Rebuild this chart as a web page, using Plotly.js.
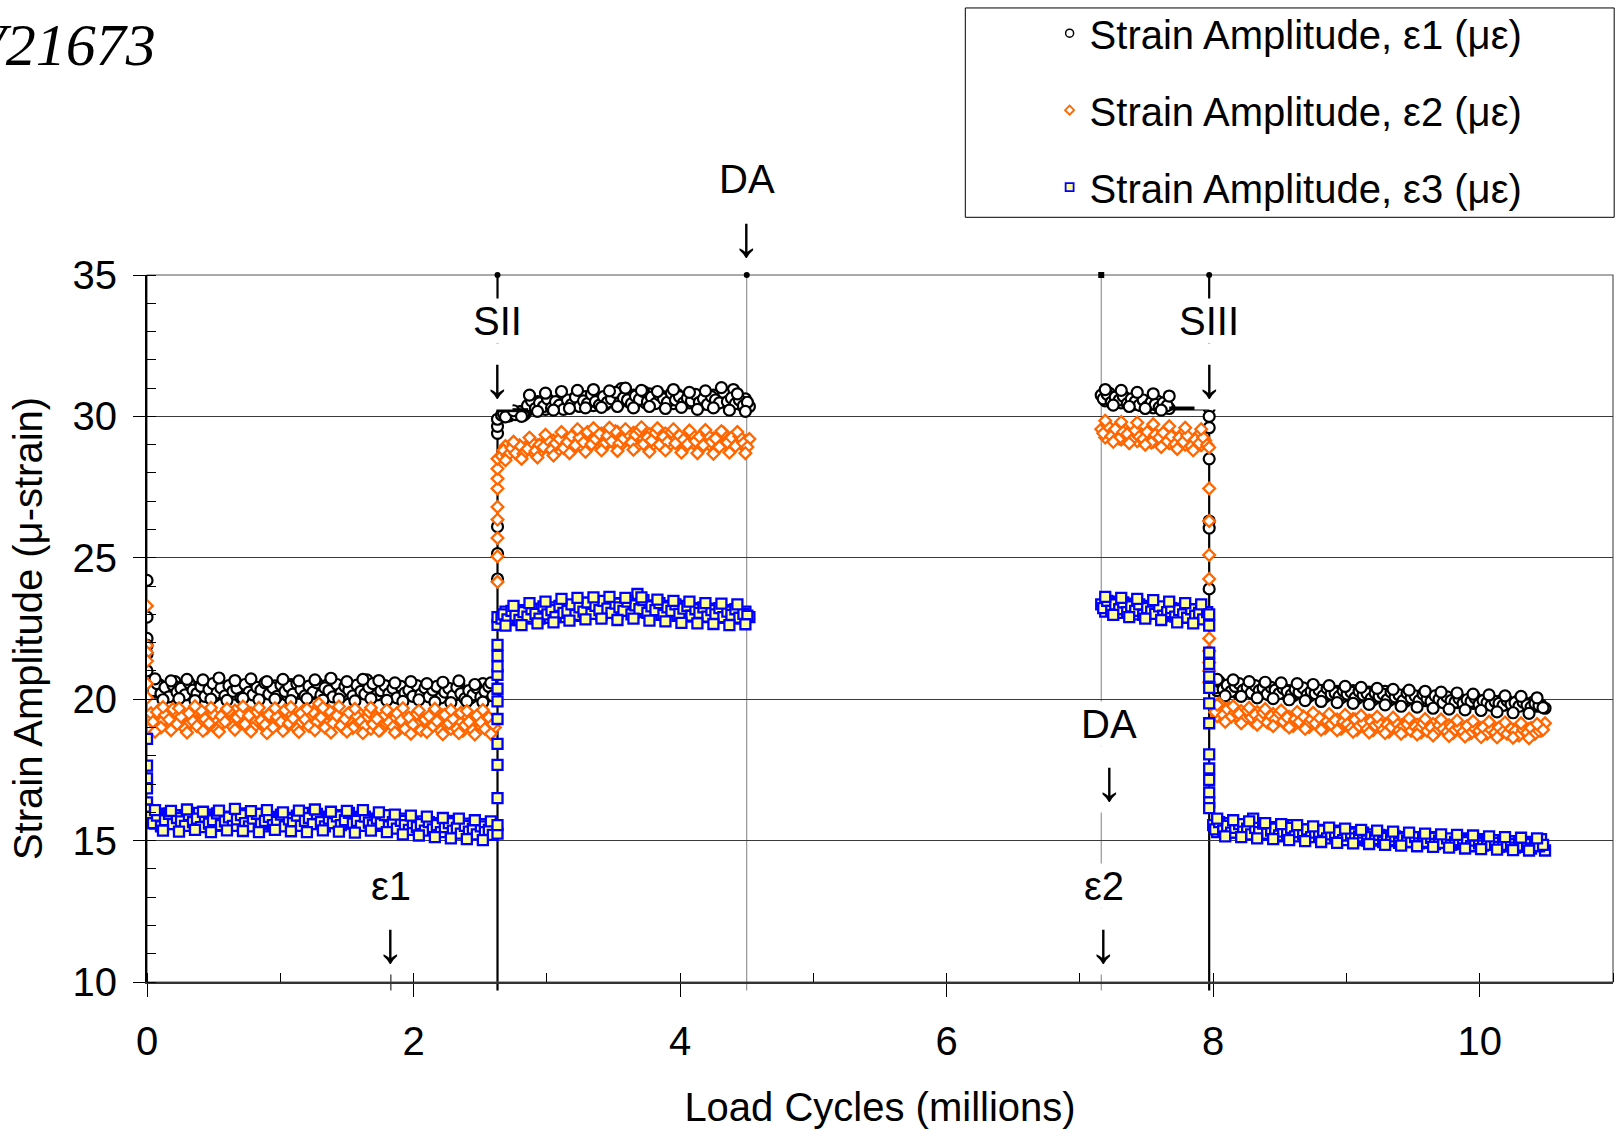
<!DOCTYPE html>
<html><head><meta charset="utf-8">
<script src="https://cdn.plot.ly/plotly-3.0.1.min.js"></script>
<style>html,body{margin:0;padding:0;background:#fff;} #chart{width:1616px;height:1133px;}</style>
</head><body><div id="chart"></div>
<script>
// ---------------- DATA ----------------
// Event positions (million load cycles)
const eventNames = ["SII", "DA", "DA", "SIII"];
const eventCycles = [2.63, 4.50, 7.16, 7.97];
const eventLabelCycles = [2.63, 4.50, 7.22, 7.97];
const eps1Mark = 1.83, eps2Mark = 7.18;

// Sampling of the steady blocks: first cycle count and interval (millions); three interleaved reading sets
const segA = {start: 0.030, step: 0.03}, segA2 = {start: 0.045, step: 0.03}, segA3 = {start: 0.060, step: 0.06};
const segB = {start: 2.660, step: 0.03}, segB2 = {start: 2.675, step: 0.03}, segB3 = {start: 2.690, step: 0.06};
const segC = {start: 7.160, step: 0.03}, segC2 = {start: 7.175, step: 0.03}, segC3 = {start: 7.190, step: 0.06};
const segD = {start: 8.000, step: 0.03}, segD2 = {start: 8.015, step: 0.03}, segD3 = {start: 8.030, step: 0.06};

// Transient readings at the start of each stage
const e1_t0 = [24.2, 22.9, 22.15, 21.9, 21.6, 21.0];
const e2_t0 = [23.3, 21.9, 21.65, 21.35, 20.55, 20.05];
const e3_t0 = [18.6, 17.65, 17.2, 16.85, 16.35, 16.1];
const e1_tSII = [24.25, 25.15, 26.1, 29.4, 29.65, 29.9];
const e2_tSII = [24.15, 25.05, 25.7, 26.35, 26.8, 27.45, 27.8, 28.15, 28.5];
const e3_tSII = [15.25, 15.55, 16.5, 17.68, 18.42, 19.3, 19.92, 20.37, 20.86, 21.16, 21.53, 21.92, 22.63, 22.9];
const e1_tSIII = [30.3, 30.0, 29.6, 28.5, 26.3, 26.05, 23.9];
const e2_tSIII = [28.9, 27.45, 26.3, 25.1, 24.25, 22.15, 21.7, 21.3, 21.0, 20.6];
const e3_tSIII = [23.0, 22.6, 21.65, 21.25, 20.8, 20.4, 19.85, 19.15, 18.05, 17.55, 17.15, 16.7, 16.35, 16.15];

// Block A (0 - 2.6 M)
const e1_A = [20.45,20.25,20.52,20.18,20.40,20.30,20.62,20.22,20.48,20.35,
20.15,20.42,20.28,20.50,20.20,20.38,20.12,20.45,20.30,20.25,
20.48,20.18,20.40,20.33,20.22,20.50,20.28,20.15,20.44,20.35,
20.20,20.47,20.26,20.38,20.14,20.52,20.30,20.22,20.43,20.28,
20.18,20.45,20.32,20.24,20.50,20.20,20.36,20.28,20.15,20.42,
20.30,20.22,20.48,20.35,20.68,20.25,20.40,20.18,20.33,20.45,
20.20,20.30,20.12,20.42,20.25,20.36,20.15,20.30,20.22,20.40,
20.10,20.28,20.18,20.35,20.08,20.25,20.15,20.50,20.12,20.22,
20.05,20.30,20.18,20.55,20.10,20.25,20.15];
const e1_A2 = [20.30,20.55,20.20,20.42,20.08,20.50,20.25,20.38,20.15,20.58,
20.32,20.20,20.45,20.10,20.35,20.55,20.22,20.40,20.12,20.48,
20.28,20.38,20.05,20.52,20.25,20.15,20.42,20.32,20.58,20.18,
20.40,20.10,20.50,20.28,20.45,20.18,20.55,20.35,20.12,20.46,
20.25,20.58,20.15,20.40,20.30,20.08,20.52,20.22,20.45,20.32,
20.12,20.50,20.28,20.18,20.42,20.55,20.15,20.30,20.48,20.20,
20.38,20.05,20.45,20.22,20.32,20.10,20.48,20.18,20.40,20.08,
20.32,20.45,20.05,20.25,20.38,20.12,20.42,20.20,20.02,20.30,
20.15,20.40,20.08,20.28,20.45,20.12];
const e1_A3 = [20.72,19.98,20.65,20.02,20.70,19.95,20.68,20.00,20.75,19.96,
20.66,20.03,20.72,19.98,20.62,20.00,20.70,19.95,20.65,20.02,
20.68,19.97,20.74,20.00,20.62,19.94,20.70,20.02,20.66,19.96,
20.58,19.92,20.62,19.98,20.55,19.90,20.60,19.88,20.65,19.92,
20.52,19.90,20.58];
const e2_A = [19.50,19.10,19.62,19.25,19.40,19.02,19.55,19.20,19.45,19.08,
19.35,19.58,19.15,19.42,18.98,19.52,19.28,19.05,19.48,19.30,
19.12,19.60,19.22,19.38,19.00,19.50,19.18,19.45,19.05,19.35,
19.55,19.15,19.40,19.25,19.02,19.48,19.30,19.10,19.58,19.20,
19.42,19.05,19.85,19.28,19.12,19.50,19.22,19.38,18.98,19.45,
19.25,19.10,19.52,19.18,19.35,18.95,19.42,19.28,19.05,19.48,
19.15,19.32,18.92,19.40,19.20,19.05,19.45,19.12,19.30,18.90,
19.38,19.18,19.02,19.42,19.10,18.95,19.35,19.22,18.88,19.40,
19.05,19.28,18.92,19.50,19.10,19.25,19.00];
const e2_A2 = [19.20,19.55,19.00,19.45,19.28,19.65,19.12,19.38,18.95,19.50,
19.22,19.05,19.60,19.30,19.15,19.48,18.92,19.40,19.20,19.58,
19.02,19.35,19.50,19.12,19.42,18.98,19.55,19.25,19.10,19.45,
19.00,19.38,19.20,19.62,19.15,19.32,18.95,19.50,19.28,19.05,
19.55,19.20,19.35,19.00,19.60,19.15,19.42,19.08,19.30,19.52,
18.98,19.40,19.22,19.05,19.55,19.12,19.30,18.92,19.45,19.18,
19.02,19.50,19.25,18.95,19.35,19.10,19.48,18.90,19.28,19.40,
19.05,19.22,18.88,19.45,19.15,19.30,18.95,19.52,19.08,19.20,
18.90,19.42,19.18,18.95,19.35,19.12];
const e2_A3 = [18.85,19.72,18.90,19.68,18.82,19.75,18.88,19.70,18.85,19.66,
18.92,19.74,18.86,19.70,18.80,19.68,18.88,19.72,18.84,19.65,
18.90,19.70,18.82,19.74,18.86,19.66,18.80,19.70,18.88,19.62,
18.82,19.68,18.78,19.60,18.84,19.66,18.76,19.62,18.80,19.58,
18.75,19.62,18.78];
const e3_A = [15.85,15.60,15.95,15.55,15.75,15.65,15.90,15.50,15.80,15.62,
15.72,15.98,15.55,15.78,15.66,15.92,15.52,15.70,15.85,15.58,
15.75,15.62,15.96,15.55,15.70,15.82,15.60,15.74,15.50,15.88,
15.65,15.78,15.55,15.93,15.68,15.58,15.80,15.64,15.98,15.55,
15.72,15.60,15.85,15.52,15.76,15.66,15.90,15.58,15.70,15.62,
15.84,15.55,15.75,15.96,15.60,15.70,15.52,15.82,15.65,15.58,
15.72,15.50,15.62,15.78,15.45,15.60,15.52,15.68,15.40,15.58,
15.48,15.62,15.35,15.52,15.70,15.42,15.30,15.55,15.38,15.60,
15.28,15.45,15.35,15.58,15.25,15.40,15.32];
const e3_A2 = [15.62,15.88,15.50,15.72,15.95,15.58,15.80,15.68,15.52,15.90,
15.65,15.78,15.48,15.85,15.60,15.72,15.96,15.55,15.68,15.82,
15.52,15.75,15.90,15.62,15.50,15.78,15.95,15.58,15.70,15.84,
15.55,15.66,15.92,15.50,15.75,15.62,15.88,15.52,15.70,15.80,
15.58,15.94,15.65,15.50,15.78,15.62,15.86,15.55,15.72,15.98,
15.60,15.70,15.52,15.85,15.64,15.55,15.78,15.60,15.90,15.50,
15.65,15.42,15.70,15.55,15.38,15.62,15.48,15.58,15.35,15.65,
15.40,15.55,15.30,15.48,15.62,15.35,15.45,15.25,15.52,15.32,
15.42,15.22,15.50,15.30,15.38,15.20];
const e3_A3 = [16.08,15.35,16.05,15.32,16.10,15.38,16.02,15.30,16.06,15.36,
16.12,15.34,16.04,15.30,16.08,15.38,16.00,15.33,16.06,15.30,
16.10,15.36,16.02,15.32,16.05,15.28,16.08,15.35,16.00,15.30,
15.92,15.22,15.88,15.18,15.85,15.12,15.80,15.08,15.78,15.05,
15.72,15.02,15.68];

// Block B (2.66 - 4.52 M)
const e1_B = [30.05,30.12,30.02,30.15,30.08,30.18,30.10,
30.45,30.30,30.52,30.38,30.25,30.55,30.40,30.32,30.60,30.45,
30.35,30.62,30.48,30.40,30.70,30.50,30.38,30.65,30.55,30.42,
30.72,30.58,30.45,30.98,30.62,30.50,30.75,30.55,30.68,30.48,
30.80,30.60,30.52,30.72,30.58,30.65,30.45,30.78,30.55,30.62,
30.48,30.70,30.58,30.42,30.68,30.52,30.75,30.45,30.60,30.50,
30.72,30.95,30.55,30.40,30.62,30.35];
const e1_B2 = [30.10,30.02,30.14,30.06,30.16,30.04,
30.38,30.55,30.28,30.48,30.35,30.62,30.30,30.52,30.40,30.25,
30.58,30.42,30.68,30.35,30.55,30.45,30.78,30.52,30.40,30.70,
30.50,30.62,30.85,30.48,30.65,30.58,30.45,30.72,30.60,30.88,
30.52,30.68,30.45,30.75,30.62,30.50,30.82,30.58,30.70,30.48,
30.65,30.55,30.78,30.50,30.62,30.42,30.70,30.58,30.48,30.85,
30.52,30.65,30.45,30.58,30.38,30.50];
const e1_B3 = [29.98,30.20,30.00,
30.75,30.18,30.82,30.22,30.88,30.28,30.92,30.30,30.95,30.32,
30.90,30.35,31.00,30.30,30.92,30.35,30.88,30.28,30.95,30.32,
30.85,30.25,30.90,30.30,31.02,30.22,30.80,30.18];
const e2_B = [28.60,28.95,28.70,29.02,28.65,28.90,28.75,
29.05,28.72,28.98,28.80,29.10,28.85,29.15,28.78,29.05,28.90,
29.20,28.85,29.12,28.95,29.35,28.92,29.18,29.05,29.40,28.98,
29.25,29.08,29.45,29.00,29.30,29.15,29.42,28.95,29.28,29.10,
29.38,29.02,29.25,29.12,29.40,28.98,29.30,29.08,29.20,28.92,
29.35,29.05,29.15,28.88,29.30,29.00,29.22,28.95,29.38,29.05,
29.18,28.90,29.25,29.02,29.12,29.20];
const e2_B2 = [28.80,28.62,28.88,28.70,28.98,28.68,
28.85,29.10,28.78,29.00,28.92,29.18,28.82,29.05,29.20,28.88,
29.10,29.30,28.98,29.25,29.08,29.45,29.02,29.20,29.38,29.00,
29.32,29.12,29.48,29.05,29.22,29.40,29.08,29.35,29.50,29.02,
29.25,29.15,29.42,29.00,29.28,29.10,29.45,29.05,29.32,29.18,
29.02,29.40,29.12,29.28,28.98,29.35,29.10,29.22,28.92,29.42,
29.08,29.25,28.95,29.30,29.05,28.92];
const e2_B3 = [28.45,29.10,28.50,
29.25,28.55,29.35,28.62,29.45,28.70,29.55,28.75,29.58,28.80,
29.60,28.78,29.55,28.82,29.62,28.75,29.58,28.80,29.55,28.72,
29.50,28.70,29.52,28.68,29.48,28.72,29.45,28.70];
const e3_B = [22.85,23.10,22.80,23.05,22.90,23.15,22.88,
23.08,22.85,23.20,22.95,23.12,22.88,23.25,22.98,23.15,22.90,
23.22,23.00,23.30,22.95,23.18,23.38,23.05,23.25,22.98,23.35,
23.10,23.28,23.02,23.40,23.15,23.25,23.05,23.72,23.20,23.08,
23.32,23.12,23.25,22.98,23.30,23.10,23.20,22.95,23.28,23.05,
23.18,22.92,23.22,23.05,23.15,22.90,23.20,23.02,23.12,22.88,
23.15,22.95,23.05,22.85,23.10,22.90];
const e3_B2 = [23.00,22.82,23.12,22.95,22.80,23.08,
22.92,23.18,23.02,22.85,23.28,23.00,23.15,22.90,23.30,23.05,
23.12,23.35,22.98,23.25,23.10,23.42,23.02,23.30,23.15,23.48,
23.20,23.05,23.38,23.25,23.12,23.45,23.00,23.32,23.18,23.50,
23.05,23.28,23.15,23.40,22.98,23.25,23.12,23.35,23.02,23.20,
23.30,22.95,23.18,23.05,23.25,22.92,23.15,23.00,23.22,22.90,
23.10,22.98,23.18,22.88,23.02,22.95];
const e3_B3 = [22.60,23.30,22.62,
23.40,22.68,23.45,22.72,23.55,22.78,23.58,22.82,23.60,22.85,
23.62,22.80,23.58,22.85,23.60,22.78,23.52,22.75,23.48,22.70,
23.45,22.68,23.40,22.66,23.38,22.62,23.35,22.65];

// Block C (7.16 - 7.97 M)
const e1_C = [30.75,30.55,30.82,30.60,30.70,30.48,30.65,30.55,30.42,30.60,30.38,30.52,30.45,30.30,30.55,30.35,30.42,30.28];
const e1_C2 = [30.62,30.78,30.50,30.68,30.58,30.72,30.45,30.62,30.52,30.40,30.58,30.35,30.50,30.42,30.32,30.48,30.38];
const e1_C3 = [30.95,30.40,30.92,30.35,30.85,30.28,30.80,30.22,30.72];
const e2_C = [29.55,29.25,29.62,29.35,29.48,29.18,29.52,29.30,29.42,29.12,29.38,29.22,29.45,29.10,29.32,29.20,29.40,29.05,29.28,29.15,29.35,29.00,29.22,29.10,29.30,28.98,29.15];
const e2_C2 = [29.40,29.68,29.30,29.55,29.22,29.45,29.38,29.15,29.50,29.28,29.20,29.45,29.08,29.35,29.25,29.42,29.12,29.30,29.02,29.25,29.10,29.32,28.95,29.18,29.05,29.25,29.00];
const e2_C3 = [29.85,29.10,29.80,29.05,29.78,29.00,29.72,28.92,29.65,28.85,29.60,28.80,29.55];
const e3_C = [23.35,23.10,23.45,23.20,23.30,23.05,23.38,23.15,23.25,23.00,23.30,22.95,23.18,23.08,23.25,22.92,23.15,23.02,23.20,22.88,23.10,22.95,23.12,22.85,23.05,22.90,23.00];
const e3_C2 = [23.22,23.48,23.12,23.35,23.18,23.42,23.08,23.28,23.12,23.35,22.98,23.22,23.10,23.02,23.28,22.95,23.08,23.22,22.92,23.15,23.00,22.88,23.18,22.95,23.05,22.82,23.08];
const e3_C3 = [23.62,22.98,23.58,22.90,23.55,22.85,23.50,22.80,23.45,22.72,23.40,22.68,23.35];

// Block D (8.0 - 10.49 M)
const e1_D = [20.55,20.30,20.48,20.25,20.52,20.35,20.22,20.45,20.30,20.50,
20.20,20.38,20.28,20.45,20.15,20.35,20.25,20.42,20.18,20.30,
20.12,20.38,20.22,20.30,20.10,20.35,20.18,20.25,20.08,20.32,
20.15,20.28,20.05,20.22,20.12,20.30,20.02,20.20,20.10,20.25,
19.98,20.18,20.05,20.28,19.95,20.15,20.02,20.10,19.92,20.20,
20.00,19.90,20.12,19.95,20.05,19.85,20.10,19.92,19.98,19.82,
20.05,19.88,19.95,19.80,20.00,19.85,19.92,19.78,19.98,19.82,
19.88,19.75,19.95,19.80,19.85,19.72,19.92,19.78,19.85,19.70,
19.90,19.75,19.80,19.68];
const e1_D2 = [20.40,20.62,20.35,20.50,20.28,20.45,20.55,20.32,20.42,20.22,
20.48,20.30,20.40,20.18,20.42,20.32,20.20,20.38,20.28,20.15,
20.35,20.25,20.40,20.15,20.28,20.20,20.32,20.12,20.38,20.18,
20.22,20.10,20.30,20.18,20.25,20.05,20.28,20.15,20.20,20.02,
20.22,20.10,20.18,19.98,20.25,20.08,20.15,19.95,20.22,20.05,
20.12,19.95,20.18,20.02,19.92,20.12,20.00,19.88,20.08,19.95,
19.90,20.02,19.85,19.98,19.92,20.05,19.82,19.95,19.88,19.78,
19.92,19.85,19.78,19.95,19.82,19.88,19.75,19.90,19.80,19.72,
19.85,19.78,19.70];
const e1_D3 = [20.70,20.12,20.68,20.10,20.62,20.05,20.60,20.02,20.58,19.98,
20.55,19.95,20.52,19.92,20.48,19.88,20.45,19.85,20.42,19.82,
20.38,19.80,20.35,19.75,20.32,19.72,20.28,19.68,20.25,19.65,
20.22,19.62,20.18,19.60,20.15,19.55,20.12,19.52,20.10,19.50,
20.05];
const e2_D = [19.75,19.40,19.62,19.30,19.70,19.45,19.35,19.58,19.28,19.50,
19.20,19.55,19.32,19.45,19.15,19.48,19.25,19.40,19.12,19.38,
19.05,19.42,19.20,19.30,19.02,19.35,19.15,19.25,18.98,19.32,
19.10,19.28,18.95,19.22,19.05,19.30,18.92,19.18,19.02,19.25,
18.90,19.20,19.00,19.12,18.85,19.18,18.98,19.08,18.88,19.15,
18.95,19.10,18.82,19.05,18.92,19.12,18.85,19.02,18.95,19.08,
18.80,19.05,18.90,19.00,18.78,19.10,18.88,18.98,18.82,19.05,
18.85,18.95,18.78,19.02,18.88,18.92,18.75,19.00,18.85,18.95,
18.80,19.02,18.88,19.15];
const e2_D2 = [19.55,19.85,19.45,19.65,19.38,19.55,19.48,19.25,19.60,19.35,
19.45,19.28,19.52,19.18,19.40,19.30,19.50,19.22,19.35,19.10,
19.30,19.20,19.40,19.10,19.28,19.15,19.35,19.05,19.22,19.12,
19.25,18.98,19.20,19.12,18.98,19.28,19.05,19.15,18.95,19.22,
19.08,19.15,18.92,19.10,19.02,19.20,18.90,19.05,19.12,18.88,
19.02,18.95,19.15,18.88,19.00,18.82,19.08,18.95,18.85,19.02,
18.92,18.98,18.85,19.05,18.80,18.95,18.88,19.00,18.78,18.92,
18.82,19.00,18.85,18.78,18.95,18.88,18.72,18.92,18.82,18.98,
18.78,18.88,18.92];
const e2_D3 = [19.80,19.20,19.75,19.15,19.70,19.10,19.65,19.05,19.60,19.00,
19.55,18.95,19.52,18.92,19.48,18.90,19.45,18.85,19.42,18.82,
19.38,18.80,19.35,18.78,19.32,18.75,19.30,18.72,19.28,18.70,
19.25,18.68,19.22,18.66,19.20,18.65,19.18,18.64,19.15,18.62,
19.12];
const e3_D = [15.55,15.30,15.48,15.25,15.62,15.40,15.28,15.50,15.35,15.45,
15.78,15.32,15.42,15.20,15.48,15.28,15.38,15.15,15.40,15.30,
15.55,15.22,15.35,15.12,15.40,15.25,15.32,15.10,15.38,15.18,
15.28,15.05,15.35,15.20,15.12,15.30,15.02,15.25,15.15,15.08,
15.22,15.00,15.18,15.10,14.98,15.20,15.05,15.12,14.95,15.15,
15.02,15.10,14.92,15.08,15.00,14.90,15.12,14.98,15.05,14.88,
15.02,14.92,15.08,14.85,15.00,14.95,14.82,15.05,14.90,14.98,
14.85,15.02,14.88,14.95,14.80,14.98,14.85,14.92,14.78,14.95,
14.82,14.90,15.05,14.65];
const e3_D2 = [15.40,15.65,15.35,15.52,15.28,15.45,15.58,15.32,15.42,15.22,
15.45,15.30,15.60,15.25,15.35,15.42,15.18,15.32,15.25,15.45,
15.15,15.30,15.22,15.40,15.12,15.28,15.18,15.35,15.08,15.22,
15.15,15.30,15.02,15.18,15.25,15.08,15.15,15.28,15.00,15.12,
15.05,15.20,14.95,15.10,15.02,15.15,14.92,15.08,15.00,14.95,
15.12,14.90,15.05,14.95,15.10,14.88,15.00,14.92,15.08,14.85,
14.95,15.02,14.88,14.95,14.80,15.00,14.90,14.82,14.98,14.85,
14.92,14.78,14.95,14.85,14.88,14.75,14.92,14.82,14.88,14.72,
14.90,14.80,14.85];
const e3_D3 = [15.78,15.15,15.72,15.12,15.68,15.08,15.62,15.05,15.58,15.02,
15.55,14.98,15.50,14.95,15.46,14.92,15.42,14.90,15.38,14.88,
15.35,14.85,15.32,14.82,15.28,14.80,15.25,14.78,15.22,14.75,
15.20,14.72,15.18,14.70,15.15,14.68,15.12,14.66,15.10,14.65,
15.08];

// Flat connector segments of the ε1 record
const e1_bar_x = [2.63, 2.86, null, 7.67, 7.97];
const e1_bar_y = [30.22, 30.22, null, 30.28, 30.28];

const seriesNames = ["Strain Amplitude, ε1 (με)", "Strain Amplitude, ε2 (με)", "Strain Amplitude, ε3 (με)"];

// ---------------- BUILD ----------------
function segX(seg, arr) { return arr.map((_, i) => +(seg.start + i * seg.step).toFixed(4)); }
function atX(c, arr) { return arr.map(() => c); }
function build(p) {
  const parts = [
    [atX(0, p.t0), p.t0],
    [segX(segA, p.A), p.A], [segX(segA2, p.A2), p.A2], [segX(segA3, p.A3), p.A3],
    [atX(eventCycles[0], p.tSII), p.tSII],
    [segX(segB, p.B), p.B], [segX(segB2, p.B2), p.B2], [segX(segB3, p.B3), p.B3],
    [segX(segC, p.C), p.C], [segX(segC2, p.C2), p.C2], [segX(segC3, p.C3), p.C3],
    [atX(eventCycles[3], p.tSIII), p.tSIII],
    [segX(segD, p.D), p.D], [segX(segD2, p.D2), p.D2], [segX(segD3, p.D3), p.D3]
  ];
  return {x: [].concat(...parts.map(q => q[0])), y: [].concat(...parts.map(q => q[1]))};
}
const s1 = build({t0: e1_t0, A: e1_A, A2: e1_A2, A3: e1_A3, tSII: e1_tSII, B: e1_B, B2: e1_B2, B3: e1_B3,
                  C: e1_C, C2: e1_C2, C3: e1_C3, tSIII: e1_tSIII, D: e1_D, D2: e1_D2, D3: e1_D3});
const s2 = build({t0: e2_t0, A: e2_A, A2: e2_A2, A3: e2_A3, tSII: e2_tSII, B: e2_B, B2: e2_B2, B3: e2_B3,
                  C: e2_C, C2: e2_C2, C3: e2_C3, tSIII: e2_tSIII, D: e2_D, D2: e2_D2, D3: e2_D3});
const s3 = build({t0: e3_t0, A: e3_A, A2: e3_A2, A3: e3_A3, tSII: e3_tSII, B: e3_B, B2: e3_B2, B3: e3_B3,
                  C: e3_C, C2: e3_C2, C3: e3_C3, tSIII: e3_tSIII, D: e3_D, D2: e3_D2, D3: e3_D3});

const FONT = "Liberation Sans, Arial, Helvetica, sans-serif";

const traces = [
  {x: s1.x, y: s1.y, type: 'scatter', mode: 'markers', showlegend: false, legendgroup: 'g1',
   marker: {symbol: 'circle', size: 11, color: '#ffffff', line: {color: '#000000', width: 2.2}}},
  {x: e1_bar_x, y: e1_bar_y, type: 'scatter', mode: 'lines', showlegend: false, hoverinfo: 'skip',
   line: {color: '#000000', width: 4}},
  {x: s2.x, y: s2.y, type: 'scatter', mode: 'markers', showlegend: false, legendgroup: 'g2',
   marker: {symbol: 'diamond', size: 9, color: '#ffffff', line: {color: '#FF6600', width: 2.3}}},
  {x: s3.x, y: s3.y, type: 'scatter', mode: 'markers', showlegend: false, legendgroup: 'g3',
   marker: {symbol: 'square', size: 10, color: '#FFFF99', line: {color: '#0000FF', width: 2.3}}},
  {x: eventCycles, y: eventCycles.map(() => 35), type: 'scatter', mode: 'markers', showlegend: false,
   cliponaxis: false, hoverinfo: 'skip',
   marker: {symbol: ['circle', 'circle', 'square', 'circle'], size: 6, color: '#000000'}},
  // legend entries (smaller symbols, as in the reference key)
  {x: [null], y: [null], type: 'scatter', mode: 'markers', name: seriesNames[0], legendgroup: 'g1',
   marker: {symbol: 'circle', size: 8, color: '#ffffff', line: {color: '#000000', width: 1.5}}},
  {x: [null], y: [null], type: 'scatter', mode: 'markers', name: seriesNames[1], legendgroup: 'g2',
   marker: {symbol: 'diamond', size: 7, color: '#ffffff', line: {color: '#FF6600', width: 1.8}}},
  {x: [null], y: [null], type: 'scatter', mode: 'markers', name: seriesNames[2], legendgroup: 'g3',
   marker: {symbol: 'square', size: 8, color: '#FFFF99', line: {color: '#0000FF', width: 1.8}}}
];

const evStyle = [{c: '#000000', w: 2.2}, {c: '#808080', w: 1}, {c: '#808080', w: 1}, {c: '#000000', w: 2.2}];
const shapes = eventCycles.map((c, i) => ({
  type: 'line', xref: 'x', yref: 'paper', x0: c, x1: c, y0: -0.012, y1: 1, layer: 'between',
  line: {color: evStyle[i].c, width: evStyle[i].w}
}));
shapes.push({type: 'line', xref: 'x', yref: 'paper', x0: eps1Mark, x1: eps1Mark, y0: -0.012, y1: 0.016,
  layer: 'between', line: {color: '#000000', width: 1}});
// plot frame (top/right)
shapes.push({type: 'rect', xref: 'paper', yref: 'paper', x0: 0, x1: 1, y0: 0, y1: 1, layer: 'between',
  line: {color: '#555555', width: 1.2}});
// legend box
shapes.push({type: 'rect', xref: 'paper', yref: 'paper', x0: 0.5582, x1: 1.0008, y0: 1.0816, y1: 1.3777,
  line: {color: '#000000', width: 1}, fillcolor: 'rgba(0,0,0,0)'});

// Event labels: text line plus a separate down-arrow glyph below it (white backing hides the event line)
function evLabel(text, x, y, bg) {
  const bgc = bg ? '#ffffff' : 'rgba(0,0,0,0)';
  return [
    {text: text, x: x, y: y, xref: 'x', yref: 'paper', showarrow: false,
     font: {family: FONT, size: 40, color: '#000000'}, bgcolor: bgc, borderpad: 0,
     xanchor: 'center', yanchor: 'middle'},
    {text: '↓', x: x, y: y, yshift: -56, xref: 'x', yref: 'paper', showarrow: false,
     font: {family: FONT, size: 58, color: '#000000'}, bgcolor: bgc, borderpad: 0,
     xanchor: 'center', yanchor: 'middle'}
  ];
}
const annotations = [].concat(
  evLabel(eventNames[0], eventLabelCycles[0], 0.9355, true),
  evLabel(eventNames[1], eventLabelCycles[1], 1.1356, false),
  evLabel(eventNames[3], eventLabelCycles[3], 0.9355, true),
  evLabel(eventNames[2], eventLabelCycles[2], 0.3655, true),
  evLabel('ε1', eps1Mark, 0.1361, true),
  evLabel('ε2', eps2Mark, 0.1361, true),
  [{text: '<i>V21673</i>', xref: 'paper', yref: 'paper', x: 0.0075, y: 1.3256, xanchor: 'right', yanchor: 'middle',
    showarrow: false, font: {family: 'Liberation Serif, Times New Roman, serif', size: 60, color: '#000000'}}]
);

const layout = {
  width: 1616, height: 1133,
  margin: {l: 147, r: 3, t: 275, b: 151, autoexpand: false},
  paper_bgcolor: '#ffffff', plot_bgcolor: '#ffffff',
  font: {family: FONT, size: 40, color: '#000000'},
  showlegend: true,
  legend: {x: 0.6157, xanchor: 'left', y: 1.388, yanchor: 'top', bgcolor: 'rgba(0,0,0,0)', borderwidth: 0,
           font: {family: FONT, size: 40, color: '#000000'}, traceorder: 'grouped', tracegroupgap: 22},
  xaxis: {range: [0, 11], tick0: 0, dtick: 2, ticks: 'outside', ticklen: 13, tickwidth: 1, tickcolor: '#000',
          showline: true, linecolor: '#333333', linewidth: 2, showgrid: false, zeroline: false,
          ticklabelstandoff: 10, automargin: false,
          minor: {dtick: 1, ticks: 'inside', ticklen: 9, tickwidth: 1, tickcolor: '#000', showgrid: false},
          title: {text: 'Load Cycles (millions)', font: {family: FONT, size: 40}, standoff: 31}},
  yaxis: {range: [10, 35], tick0: 10, dtick: 5, ticks: 'outside', ticklen: 12, tickwidth: 1, tickcolor: '#000',
          showline: true, linecolor: '#000000', linewidth: 2, showgrid: true, gridcolor: '#3a3a3a', gridwidth: 1,
          zeroline: false, ticklabelstandoff: 8, automargin: false,
          minor: {dtick: 1, ticks: 'inside', ticklen: 9, tickwidth: 1, tickcolor: '#000', showgrid: false},
          title: {text: 'Strain Amplitude (μ-strain)', font: {family: FONT, size: 40}, standoff: 18}},
  shapes: shapes,
  annotations: annotations
};

Plotly.newPlot('chart', traces, layout, {staticPlot: true, displayModeBar: false});
</script></body></html>
